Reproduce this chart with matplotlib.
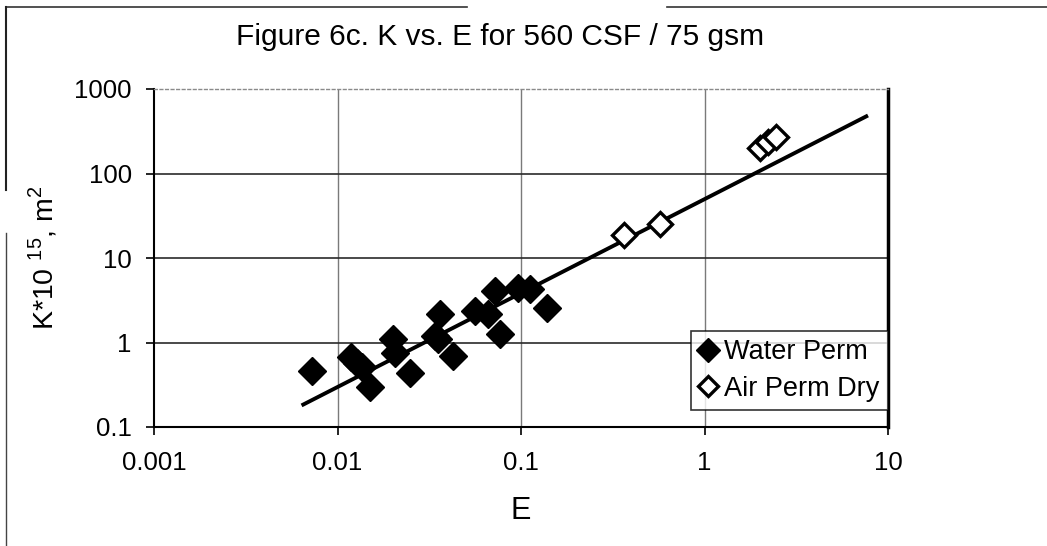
import matplotlib
matplotlib.use("Agg")
import matplotlib.pyplot as plt
from matplotlib.lines import Line2D
from matplotlib.ticker import FixedLocator, FixedFormatter, NullLocator

plt.rcParams['font.family'] = ['Liberation Sans', 'DejaVu Sans']
plt.rcParams['mathtext.fontset'] = 'custom'
plt.rcParams['mathtext.rm'] = 'Liberation Sans'

# ---- data ----
water_E = [0.0073, 0.0118, 0.0128, 0.0136, 0.0151, 0.0201, 0.0207, 0.0249,
           0.0341, 0.0355, 0.0363, 0.0427, 0.0562, 0.066, 0.072, 0.077,
           0.0963, 0.112, 0.138]
water_K = [0.46, 0.667, 0.57, 0.51, 0.30, 1.11, 0.76, 0.43,
           1.21, 1.11, 2.19, 0.685, 2.37, 2.19, 4.07, 1.27,
           4.4, 4.3, 2.57]

air_E = [0.363, 0.574, 2.01, 2.23, 2.46]
air_K = [18.5, 25.4, 203, 233, 267]

trend_E = [0.00637, 7.78]
trend_K = [0.18, 486]

x_ticks = [0.001, 0.01, 0.1, 1, 10]
x_labels = ['0.001', '0.01', '0.1', '1', '10']
y_ticks = [0.1, 1, 10, 100, 1000]
y_labels = ['0.1', '1', '10', '100', '1000']

title = 'Figure 6c. K vs. E for 560 CSF / 75 gsm'
xlabel = 'E'
ylabel = r'K*10 $^{15}$, m$^{2}$'
series_names = ['Water Perm', 'Air Perm Dry']

# ---- figure ----
W, H = 1047, 546
fig = plt.figure(figsize=(W / 100, H / 100), dpi=100)
L, R, T, B = 154, 888, 89, 427
ax = fig.add_axes([L / W, 1 - B / H, (R - L) / W, (B - T) / H])

ax.set_xscale('log')
ax.set_yscale('log')
ax.set_xlim(x_ticks[0], x_ticks[-1])
ax.set_ylim(y_ticks[0], y_ticks[-1])

# gridlines
for xv in x_ticks[1:-1]:
    ax.axvline(xv, color='#7a7a7a', lw=1.0, zorder=1)
for yv in y_ticks[1:-1]:
    ax.axhline(yv, color='#2a2a2a', lw=1.2, zorder=1)

ax.plot(trend_E, trend_K, color='black', lw=2.8, solid_capstyle='butt', zorder=3)
ax.plot(water_E, water_K, linestyle='none', marker='D', markersize=14,
        markerfacecolor='black', markeredgecolor='black', markeredgewidth=1, zorder=4)
ax.plot(air_E, air_K, linestyle='none', marker='D', markersize=12,
        markerfacecolor='white', markeredgecolor='black', markeredgewidth=2.4, zorder=4)

ax.xaxis.set_major_locator(FixedLocator(x_ticks))
ax.xaxis.set_major_formatter(FixedFormatter(x_labels))
ax.yaxis.set_major_locator(FixedLocator(y_ticks))
ax.yaxis.set_major_formatter(FixedFormatter(y_labels))
ax.xaxis.set_minor_locator(NullLocator())
ax.yaxis.set_minor_locator(NullLocator())
ax.tick_params(axis='both', direction='out', length=6, width=1.2, labelsize=18.5, color='black')
ax.tick_params(axis='x', pad=11)
ax.tick_params(axis='y', pad=10)

for s in ['left', 'bottom']:
    ax.spines[s].set_linewidth(1.5)
    ax.spines[s].set_color('black')
ax.spines['right'].set_linewidth(2.5)
ax.spines['right'].set_color('black')
ax.spines['top'].set_linewidth(1.0)
ax.spines['top'].set_color('#8a8a8a')
ax.spines['top'].set_linestyle((0, (2, 2)))

# labels
fig.text(500 / W, 1 - 37 / H, title, ha='center', va='center', fontsize=21.5)
fig.text(521 / W, 1 - 511 / H, xlabel, ha='center', va='center', fontsize=22)
fig.text(43 / W, 1 - 258 / H, ylabel, ha='center', va='center', rotation=90, fontsize=20.5)

# legend
handles = [
    Line2D([], [], linestyle='none', marker='D', markersize=12,
           markerfacecolor='black', markeredgecolor='black'),
    Line2D([], [], linestyle='none', marker='D', markersize=10,
           markerfacecolor='white', markeredgecolor='black', markeredgewidth=2.4),
]
leg = ax.legend(handles, series_names, loc='lower right', bbox_to_anchor=(1.0, 0.05),
                borderaxespad=0, fontsize=19.5, frameon=True, fancybox=False,
                handlelength=0.7, handletextpad=0.25, borderpad=0.3, labelspacing=0.4)
leg.get_frame().set_edgecolor('black')
leg.get_frame().set_linewidth(1.2)
leg.set_zorder(6)

# scanned outer frame lines
fig.add_artist(Line2D([7 / W, 467 / W], [1 - 7 / H, 1 - 7 / H], color='#333333', lw=1.2))
fig.add_artist(Line2D([667 / W, 1.0], [1 - 7 / H, 1 - 7 / H], color='#333333', lw=1.2))
fig.add_artist(Line2D([6 / W, 6 / W], [1 - 7 / H, 1 - 190 / H], color='#222222', lw=1.5))
fig.add_artist(Line2D([6 / W, 6 / W], [1 - 233 / H, 0.0], color='#444444', lw=1.0))

fig.savefig('out.png', dpi=100)
